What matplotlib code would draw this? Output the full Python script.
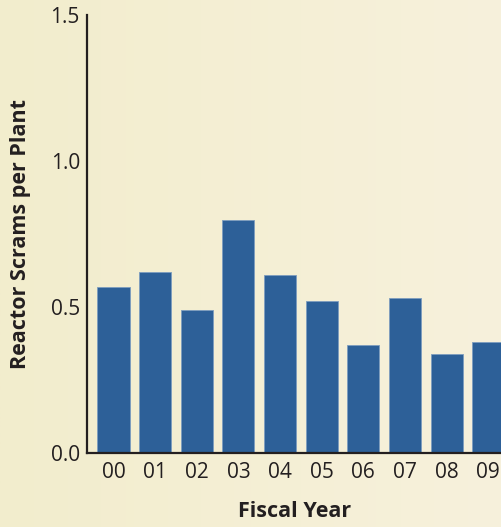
import matplotlib
matplotlib.use("Agg")
import matplotlib.pyplot as plt
import numpy as np
from matplotlib.colors import LinearSegmentedColormap

years = ["00", "01", "02", "03", "04", "05", "06", "07", "08", "09"]
scrams = [0.57, 0.62, 0.49, 0.80, 0.61, 0.52, 0.37, 0.53, 0.34, 0.38]
yticks = [0.0, 0.5, 1.0, 1.5]

plt.rcParams['font.family'] = ['Open Sans', 'DejaVu Sans']

fig = plt.figure(figsize=(5.02, 5.27), dpi=100)

# cream background with a slight left-to-right lightening
bg = fig.add_axes([0, 0, 1, 1], zorder=-1)
grad = np.linspace(0, 1, 256).reshape(1, -1)
cmap = LinearSegmentedColormap.from_list('bg', ['#f2edcd', '#f7f1dc'])
bg.imshow(grad, aspect='auto', cmap=cmap, extent=[0, 1, 0, 1])
bg.axis('off')

ax = fig.add_axes([0.173, 0.140, 0.827, 0.831])
ax.patch.set_alpha(0)
x = np.arange(len(years))
ax.bar(x, scrams, width=0.77, color='#2d6098', edgecolor='#7d9dbf', linewidth=0.6)

ax.set_xlim(-0.64, 9.33)
ax.set_ylim(0, 1.5)
ax.set_yticks(yticks)
ax.set_yticklabels([f"{v:.1f}" for v in yticks])
ax.set_xticks(x)
ax.set_xticklabels(years)
ax.tick_params(axis='both', length=0, labelsize=15, colors='#231f20')
ax.tick_params(axis='x', pad=6)
ax.tick_params(axis='y', pad=5)

for s in ['top', 'right']:
    ax.spines[s].set_visible(False)
for s in ['left', 'bottom']:
    ax.spines[s].set_color('#231f20')
    ax.spines[s].set_linewidth(1.6)

ax.set_xlabel('Fiscal Year', fontsize=15.5, fontweight='bold', color='#231f20', labelpad=13)
ax.set_ylabel('Reactor Scrams per Plant', fontsize=15.5, fontweight='bold', color='#231f20', labelpad=14)

fig.savefig('out.png', dpi=100)
